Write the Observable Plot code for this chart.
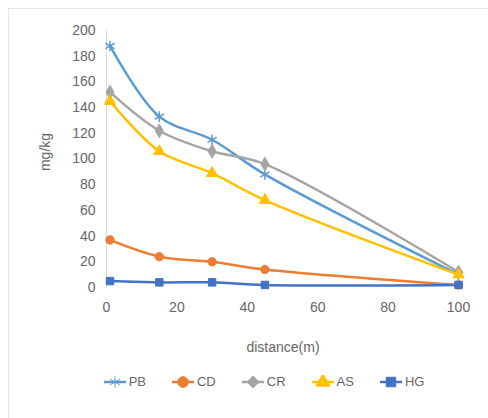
<!DOCTYPE html>
<html>
<head>
<meta charset="utf-8">
<script src="https://cdn.jsdelivr.net/npm/d3@7"></script>
<script src="https://cdn.jsdelivr.net/npm/@observablehq/plot@0.6"></script>
<style>
  body { margin: 0; background: #fff; }
  #wrap { position: relative; width: 488px; height: 418px; overflow: hidden; font-family: "Liberation Sans", "DejaVu Sans", sans-serif; }
  #frame { position: absolute; left: 8px; top: 8px; width: 490px; height: 420px; border-left: 1px solid #e4e4e4; border-top: 1px solid #e4e4e4; }
  #chart { position: absolute; left: 0; top: 0; }
  #ylab { position: absolute; left: 45px; top: 152px; transform: translate(-50%, -50%) rotate(-90deg); font-size: 14px; color: #666; white-space: nowrap; }
  #xlab { position: absolute; left: 283px; top: 347px; transform: translate(-50%, -50%); font-size: 14px; color: #666; white-space: nowrap; }
  #legend { position: absolute; left: 20px; width: 488px; top: 374px; display: flex; justify-content: center; gap: 26px; font-size: 13px; color: #666; }
  .item { display: flex; align-items: center; gap: 3px; }
</style>
</head>
<body>
<div id="wrap">
  <div id="frame"></div>
  <div id="chart"></div>
  <div id="ylab">mg/kg</div>
  <div id="xlab">distance(m)</div>
  <div id="legend"></div>
</div>
<script>
const distance = [1, 15, 30, 45, 100];
const PB = [188, 133, 115, 88, 10];
const CD = [37, 24, 20, 14, 2];
const CR = [152, 122, 106, 96, 12];
const AS = [145, 106, 89, 68, 10];
const HG = [5, 4, 4, 2, 2];
const seriesNames = ["PB", "CD", "CR", "AS", "HG"];
const seriesValues = [PB, CD, CR, AS, HG];
const colors = ["#5B9BD5", "#ED7D31", "#A5A5A5", "#FFC000", "#4472C4"];
const symbols = ["asterisk", "circle", "diamond", "triangle", "square"];
const xTicks = [0, 20, 40, 60, 80, 100];
const yTicks = [0, 20, 40, 60, 80, 100, 120, 140, 160, 180, 200];

const rows = [];
seriesNames.forEach((s, i) => distance.forEach((d, j) => rows.push({series: s, distance: d, value: seriesValues[i][j]})));

const marks = [
  Plot.ruleX([0], {y1: 0, y2: 200, stroke: "#d9d9d9", strokeWidth: 1}),
  Plot.axisX({ticks: xTicks, tickSize: 0, tickPadding: 15, label: null, fontSize: 14, color: "#666"}),
  Plot.axisY({ticks: yTicks, tickSize: 0, tickPadding: 11, label: null, fontSize: 14, color: "#666"})
];
seriesNames.forEach((s, i) => {
  const data = rows.filter(r => r.series === s);
  marks.push(Plot.line(data, {x: "distance", y: "value", stroke: colors[i], strokeWidth: 2.5, curve: "catmull-rom"}));
  marks.push(Plot.dot(data, {x: "distance", y: "value", symbol: () => symbols[i], fill: colors[i], stroke: colors[i], strokeWidth: i === 0 ? 1.5 : 1, r: i === 0 ? 5 : 4.2}));
});

const chart = Plot.plot({
  width: 488,
  height: 360,
  marginLeft: 106,
  marginRight: 30,
  marginTop: 30,
  marginBottom: 73,
  style: {fontFamily: "Liberation Sans, DejaVu Sans, sans-serif", background: "transparent", color: "#666"},
  x: {domain: [0, 100]},
  y: {domain: [0, 200]},
  symbol: {type: "identity"},
  marks
});
document.getElementById("chart").appendChild(chart);

const legend = document.getElementById("legend");
seriesNames.forEach((s, i) => {
  const item = document.createElement("div");
  item.className = "item";
  const svg = d3.create("svg").attr("width", 22).attr("height", 14);
  svg.append("line").attr("x1", 0).attr("x2", 22).attr("y1", 7).attr("y2", 7).attr("stroke", colors[i]).attr("stroke-width", 2.5);
  const symMap = {asterisk: d3.symbolAsterisk, circle: d3.symbolCircle, diamond: d3.symbolDiamond2, triangle: d3.symbolTriangle, square: d3.symbolSquare};
  svg.append("path").attr("transform", "translate(11,7)").attr("d", d3.symbol(symMap[symbols[i]], 90)()).attr("fill", colors[i]).attr("stroke", colors[i]);
  item.appendChild(svg.node());
  const t = document.createElement("span");
  t.textContent = s;
  item.appendChild(t);
  legend.appendChild(item);
});
</script>
</body>
</html>
